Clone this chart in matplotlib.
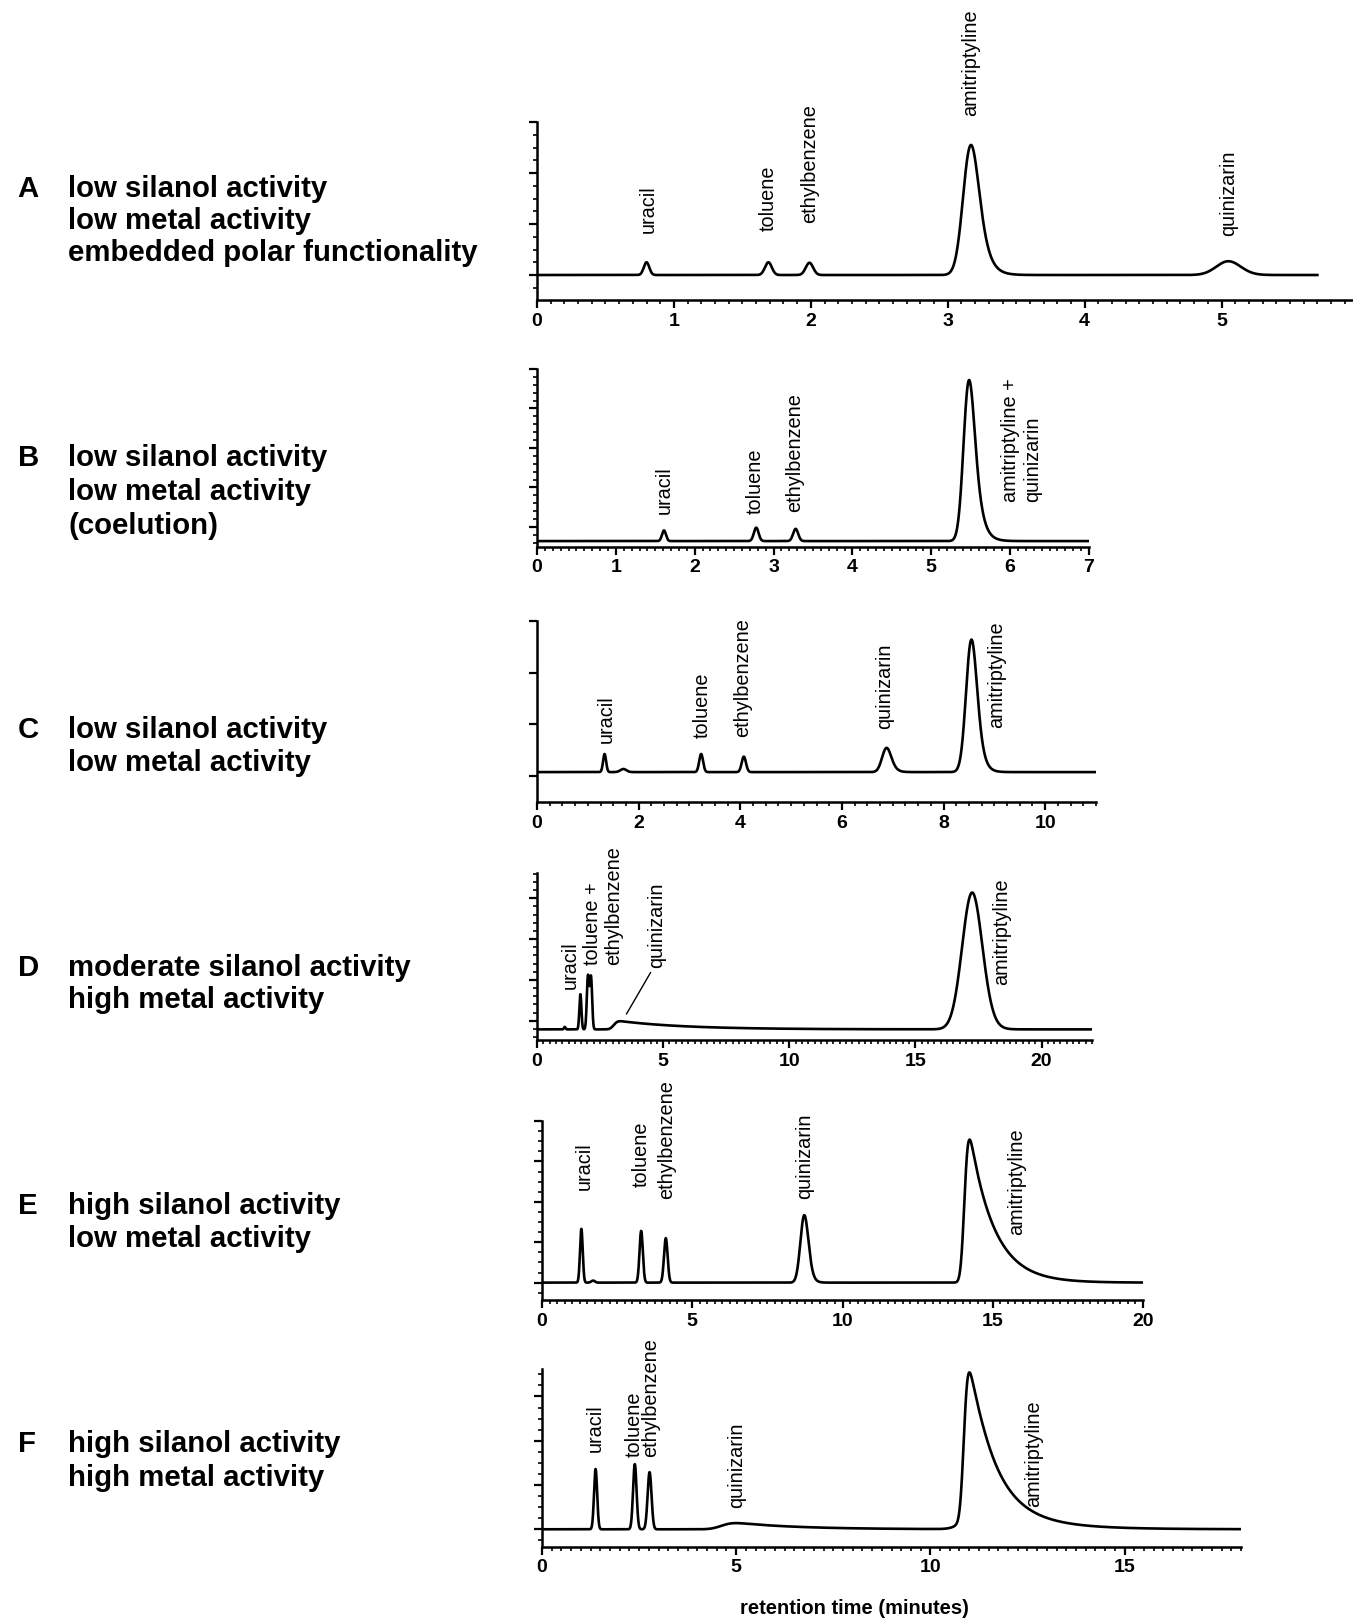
import math
import numpy as np
import matplotlib
matplotlib.use("Agg")
import matplotlib.pyplot as plt
from matplotlib.ticker import MultipleLocator

W, H = 1353, 1621

# ---- panel A ----
a_rt = [0.80, 1.69, 1.99, 3.17, 5.05]
a_h = [0.25, 0.25, 0.24, 2.55, 0.27]
a_sig = [0.020, 0.025, 0.027, 0.050, 0.085]
a_tau = [0.0, 0.0, 0.0, 0.05, 0.03]
a_lab = ["uracil", "toluene", "ethylbenzene", "amitriptyline", "quinizarin"]
a_lx = [0.81, 1.69, 1.99, 3.17, 5.05]
a_ly = [0.83, 0.87, 1.01, 3.12, 0.76]

# ---- panel B ----
b_rt = [1.61, 2.78, 3.28, 5.48]
b_h = [0.27, 0.34, 0.31, 4.08]
b_sig = [0.025, 0.030, 0.032, 0.060]
b_tau = [0.0, 0.0, 0.0, 0.07]
b_lab = ["uracil", "toluene", "ethylbenzene", "amitriptyline +\nquinizarin"]
b_lx = [1.62, 2.77, 3.27, 6.15]
b_ly = [0.32, 0.32, 0.38, 0.63]

# ---- panel C ----
c_rt = [1.33, 1.70, 3.23, 4.07, 6.88, 8.55]
c_h = [0.35, 0.06, 0.35, 0.30, 0.47, 2.57]
c_sig = [0.030, 0.060, 0.038, 0.042, 0.080, 0.095]
c_tau = [0.0, 0.0, 0.0, 0.0, 0.06, 0.08]
c_lab = ["uracil", "toluene", "ethylbenzene", "quinizarin", "amitriptyline"]
c_lx = [1.36, 3.25, 4.05, 6.85, 9.04]
c_ly = [0.64, 0.74, 0.75, 0.91, 0.93]

# ---- panel D ----
d_rt = [1.10, 1.72, 2.02, 2.14, 3.30, 17.25]
d_h = [0.06, 0.86, 1.30, 1.28, 0.20, 3.35]
d_sig = [0.03, 0.04, 0.045, 0.045, 0.12, 0.38]
d_tau = [0.0, 0.0, 0.0, 0.0, 2.6, 0.15]
d_lab = ["uracil", "toluene +\nethylbenzene", "quinizarin", "amitriptyline"]
d_lx = [1.31, 2.62, 4.75, 18.4]
d_ly = [0.77, 1.37, 1.29, 0.88]
d_lead_x = [4.50, 3.55]
d_lead_y = [1.18, 0.17]

# ---- panel E ----
e_rt = [1.31, 1.70, 3.30, 4.12, 8.73, 14.23]
e_h = [1.33, 0.05, 1.28, 1.10, 1.67, 3.54]
e_sig = [0.045, 0.06, 0.055, 0.06, 0.12, 0.10]
e_tau = [0.0, 0.0, 0.0, 0.0, 0.08, 0.80]
e_lab = ["uracil", "toluene", "ethylbenzene", "quinizarin", "amitriptyline"]
e_lx = [1.41, 3.30, 4.16, 8.73, 15.8]
e_ly = [2.28, 2.36, 2.08, 2.08, 1.18]

# ---- panel F ----  (amitriptyline as a sharp peak plus a broad tailing part)
f_rt = [1.38, 2.39, 2.77, 5.00, 11.00, 11.30]
f_h = [1.36, 1.47, 1.29, 0.14, 3.20, 0.45]
f_sig = [0.040, 0.045, 0.050, 0.22, 0.08, 0.25]
f_tau = [0.0, 0.0, 0.0, 1.6, 0.60, 1.30]
f_lab = ["uracil", "toluene\nethylbenzene", "quinizarin", "amitriptyline"]
f_lx = [1.36, 2.58, 5.00, 12.65]
f_ly = [1.75, 1.64, 0.47, 0.50]

descr = [
    ("A", ["low silanol activity", "low metal activity", "embedded polar functionality"], [189, 221, 253]),
    ("B", ["low silanol activity", "low metal activity", "(coelution)"], [458, 492, 526]),
    ("C", ["low silanol activity", "low metal activity"], [730, 763]),
    ("D", ["moderate silanol activity", "high metal activity"], [968, 1000]),
    ("E", ["high silanol activity", "low metal activity"], [1206, 1239]),
    ("F", ["high silanol activity", "high metal activity"], [1444, 1478]),
]

erfc = np.vectorize(math.erfc)


def peak(t, rt, h, sig, tau):
    if tau <= 0:
        return h * np.exp(-0.5 * ((t - rt) / sig) ** 2)
    # exponentially modified gaussian, shifted so maximum sits at rt
    def emg(x):
        return np.exp(sig**2 / (2 * tau**2) - x / tau) * erfc((sig / tau - x / sig) / np.sqrt(2))
    xs = np.linspace(-5 * sig, 5 * sig + 3 * tau, 4000)
    ys = emg(xs)
    xm = xs[np.argmax(ys)]
    return h * emg(t - rt + xm) / ys.max()


def trace(t, base, rts, hs, sigs, taus):
    y = np.full_like(t, base)
    for r, h, s, tu in zip(rts, hs, sigs, taus):
        y = y + peak(t, r, h, s, tu)
    return y


tick_font = dict(family=["Liberation Sans", "DejaVu Sans"], weight="bold", size=14)
lab_font = dict(family=["Liberation Sans", "DejaVu Sans"], size=14.3)
desc_font = dict(family=["Liberation Sans", "DejaVu Sans"], weight="bold", size=21.2)

panels = [
    dict(box=(537, 1353, 122, 300), xlim=(0, 5.96), ylim=(-0.49, 3.0), xmin=0.1, ymin=0.25,
         tend=5.7, base=0.0, pk=(a_rt, a_h, a_sig, a_tau), lab=(a_lab, a_lx, a_ly), xt=range(0, 6)),
    dict(box=(537, 1089, 369, 547), xlim=(0, 7), ylim=(-0.51, 4.0), xmin=0.1, ymin=0.2,
         tend=7.0, base=-0.36, pk=(b_rt, b_h, b_sig, b_tau), lab=(b_lab, b_lx, b_ly), xt=range(0, 8)),
    dict(box=(537, 1096, 621, 802), xlim=(0, 11), ylim=(-0.51, 3.0), xmin=0.25, ymin=None,
         tend=11.0, base=0.07, pk=(c_rt, c_h, c_sig, c_tau), lab=(c_lab, c_lx, c_ly), xt=range(0, 11, 2)),
    dict(box=(537, 1092, 873, 1040), xlim=(0, 22), ylim=(-0.47, 3.62), xmin=0.25, ymin=0.2,
         tend=22.0, base=-0.21, pk=(d_rt, d_h, d_sig, d_tau), lab=(d_lab, d_lx, d_ly), xt=range(0, 21, 5)),
    dict(box=(542, 1143, 1121, 1300), xlim=(0, 20), ylim=(-0.43, 4.0), xmin=0.25, ymin=0.25,
         tend=20.0, base=0.0, pk=(e_rt, e_h, e_sig, e_tau), lab=(e_lab, e_lx, e_ly), xt=range(0, 21, 5)),
    dict(box=(542, 1241, 1369, 1547), xlim=(0, 18), ylim=(-0.40, 3.62), xmin=0.25, ymin=0.25,
         tend=18.0, base=0.0, pk=(f_rt, f_h, f_sig, f_tau), lab=(f_lab, f_lx, f_ly), xt=range(0, 16, 5)),
]

fig = plt.figure(figsize=(W / 100, H / 100), dpi=100)

for i, p in enumerate(panels):
    l, r, top, bot = p["box"]
    ax = fig.add_axes([l / W, 1 - bot / H, (r - l) / W, (bot - top) / H])
    t = np.linspace(0, p["tend"], 6000)
    y = trace(t, p["base"], *p["pk"])
    ax.plot(t, y, color="black", lw=1.9, solid_joinstyle="round")
    ls = 0.85 if i == 5 else 1.2
    for txt, lx, ly in zip(*p["lab"]):
        ax.text(lx, ly, txt, rotation=90, ha="center", va="bottom", multialignment="left",
                linespacing=ls, clip_on=False, **lab_font)
    if i == 3:
        ax.plot(d_lead_x, d_lead_y, color="black", lw=1.0, clip_on=False)

    ax.set_xlim(*p["xlim"])
    ax.set_ylim(*p["ylim"])
    for s in ["top", "right"]:
        ax.spines[s].set_visible(False)
    for s in ["left", "bottom"]:
        ax.spines[s].set_linewidth(1.8)
    ax.set_xticks(list(p["xt"]))
    ax.set_xticklabels([str(v) for v in p["xt"]], fontdict=tick_font)
    ax.xaxis.set_minor_locator(MultipleLocator(p["xmin"]))
    ax.yaxis.set_major_locator(MultipleLocator(1))
    if p["ymin"]:
        ax.yaxis.set_minor_locator(MultipleLocator(p["ymin"]))
    ax.set_yticklabels([])
    ax.tick_params(which="major", direction="out", length=6, width=1.6, pad=3)
    ax.tick_params(which="minor", direction="out", length=3, width=1.2)
    ax.patch.set_visible(False)

    letter, lines, ys = descr[i]
    fig.text(17.6 / W, 1 - ys[0] / H, letter, ha="left", va="center", **desc_font)
    for txt, yy in zip(lines, ys):
        fig.text(68 / W, 1 - yy / H, txt, ha="left", va="center", **desc_font)

fig.text(854 / W, 1 - 1608 / H, "retention time (minutes)", ha="center", va="center",
         family=["Liberation Sans", "DejaVu Sans"], weight="bold", size=14.5)

fig.savefig("out.png", dpi=100, facecolor="white")
